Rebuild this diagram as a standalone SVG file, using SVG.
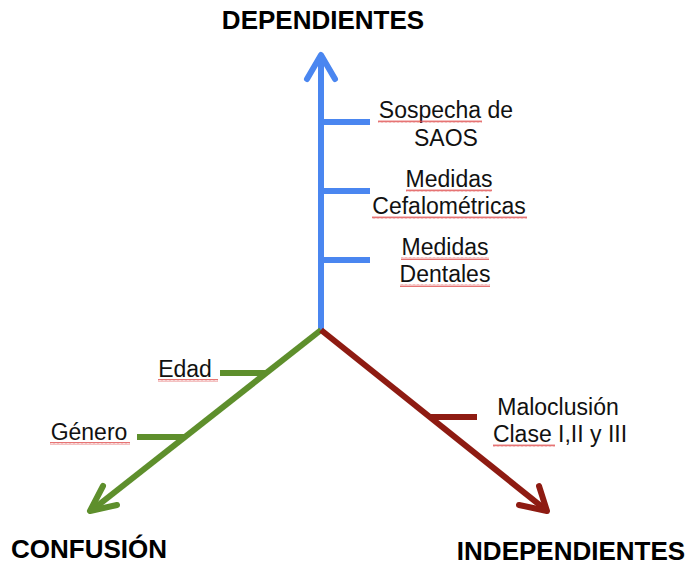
<svg xmlns="http://www.w3.org/2000/svg" width="689" height="565" viewBox="0 0 689 565">
<style>
.lbl{font-family:"Liberation Sans",Arial,sans-serif;font-size:23px;fill:#111;text-anchor:middle}
.ttl{font-family:"Liberation Sans",Arial,sans-serif;font-size:26px;font-weight:bold;fill:#000;text-anchor:middle}
.b{stroke:#4a86f0;stroke-width:6;fill:none}
.g{stroke:#5e8f2c;stroke-width:6;fill:none}
.r{stroke:#8e1b12;stroke-width:6;fill:none}
.hd{stroke-linecap:round;stroke-linejoin:round}
.sq{fill:url(#wave)}
</style>
<defs>
<pattern id="wave" width="4" height="3" patternUnits="userSpaceOnUse">
<path d="M0 2.5 L1 0.5 L2 2.5 L3 0.5 L4 2.5" stroke="#e05050" stroke-width="0.8" fill="none"/>
</pattern>
</defs>
<rect width="689" height="565" fill="#fff"/>
<g id="connectors">
<line class="b" x1="321" y1="330" x2="321" y2="56"/>
<polyline class="b hd" points="307,79 321,55 335,79"/>
<line class="b" x1="321" y1="122" x2="370" y2="122"/>
<line class="b" x1="321" y1="191" x2="370" y2="191"/>
<line class="b" x1="321" y1="260" x2="370" y2="260"/>
<line class="g" x1="321" y1="330" x2="92" y2="510"/>
<polyline class="g hd" points="103,486 90,511 117,505"/>
<line class="g" x1="220" y1="373" x2="267" y2="373"/>
<line class="g" x1="137" y1="437" x2="185" y2="437"/>
<line class="r" x1="321" y1="330" x2="546" y2="510"/>
<polyline class="r hd" points="519,505 547,511 539,486"/>
<line class="r" x1="430" y1="417" x2="477" y2="417"/>
</g>
<g id="dependientes"><text class="ttl" x="323" y="29">DEPENDIENTES</text></g>
<g id="confusion"><text class="ttl" x="89" y="558">CONFUSIÓN</text></g>
<g id="independientes"><text class="ttl" x="571" y="560">INDEPENDIENTES</text></g>
<g id="sospecha">
<text class="lbl" x="446" y="118">Sospecha de</text>
<text class="lbl" x="446" y="146">SAOS</text>
<rect class="sq" x="378" y="120" width="104" height="3"/>
</g>
<g id="cefalometricas">
<text class="lbl" x="449" y="187">Medidas</text>
<text class="lbl" x="449" y="214">Cefalométricas</text>
<rect class="sq" x="406" y="189" width="86" height="3"/>
<rect class="sq" x="372" y="216" width="155" height="3"/>
</g>
<g id="dentales">
<text class="lbl" x="445" y="255">Medidas</text>
<text class="lbl" x="445" y="282">Dentales</text>
<rect class="sq" x="401" y="257" width="88" height="3"/>
<rect class="sq" x="400" y="284" width="90" height="3"/>
</g>
<g id="edad">
<text class="lbl" x="185" y="377">Edad</text>
<rect class="sq" x="158" y="379" width="60" height="3"/>
</g>
<g id="genero">
<text class="lbl" x="89" y="440">Género</text>
<rect class="sq" x="50" y="442" width="80" height="3"/>
</g>
<g id="maloclusion">
<text class="lbl" x="558" y="415">Maloclusión</text>
<text class="lbl" x="560" y="442">Clase I,II y III</text>
<rect class="sq" x="493" y="444" width="62" height="3"/>
</g>
</svg>
